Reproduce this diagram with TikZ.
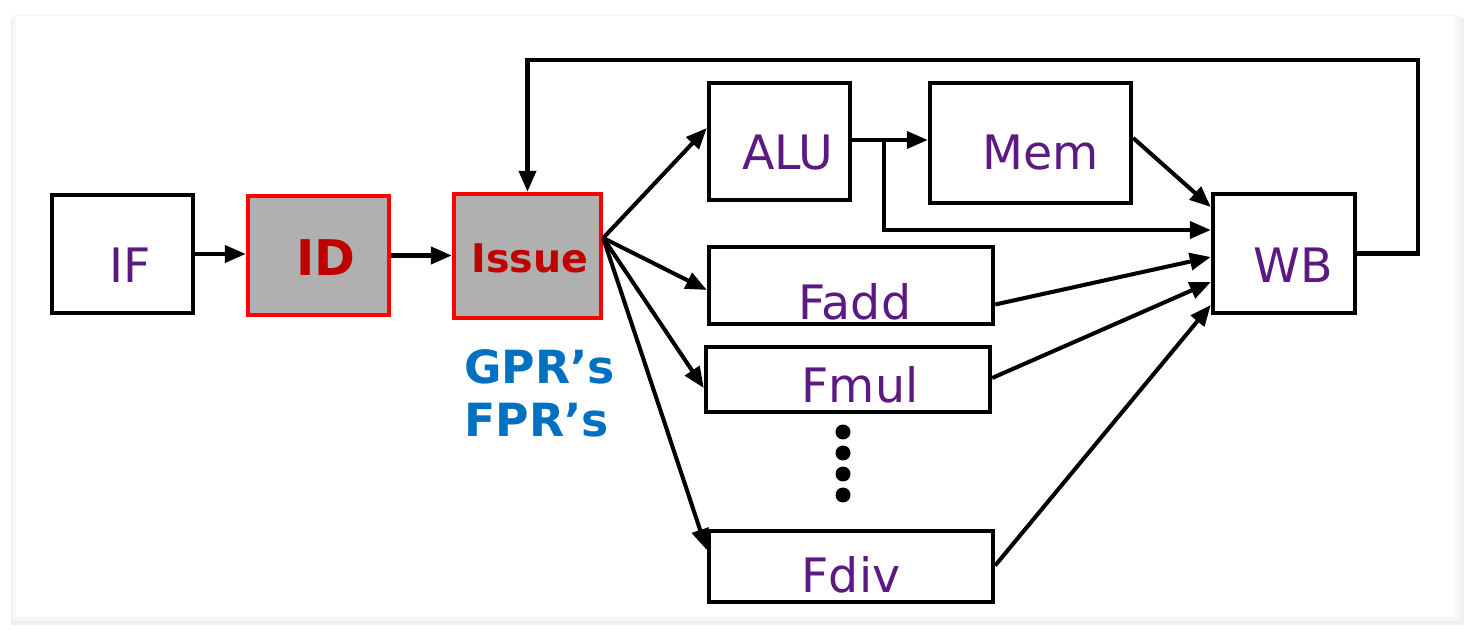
\documentclass[tikz,border=0pt]{standalone}
\usepackage{fontspec}
\setmainfont{DejaVu Sans}
\usetikzlibrary{arrows.meta}
\definecolor{unitpurple}{HTML}{5B1A82}
\definecolor{stagered}{HTML}{C00000}
\definecolor{regblue}{HTML}{0070C0}
\definecolor{stagegray}{HTML}{B0B0B0}
\tikzset{
	unit/.style={draw=black, line width=2.5pt, fill=white, inner sep=0pt},
	stage/.style={draw=red, line width=2.5pt, fill=stagegray, inner sep=0pt},
	utxt/.style={text=unitpurple, font=\fontsize{27}{32}\selectfont},
	stxt/.style={text=stagered, font=\bfseries\fontsize{#1}{32}\selectfont},
	arr/.style={line width=2.3pt, -{Triangle[length=4.2mm,width=3.4mm]}}
}

\begin{document}
\begin{tikzpicture}
		\useasboundingbox (0,0) rectangle (29.44,-12.68);
		% card and its shadow
		\fill[black!6] (0.22,-0.36) rectangle (29.28,-12.5);
		\fill[black!3] (0.26,-0.3) rectangle (29.2,-12.42);
		\fill[white] (0.32,-0.32) rectangle (29.1,-12.34);
		
		% the boxes
		\node[unit, minimum width=2.82cm, minimum height=2.36cm,
			label={[utxt,xshift=0.15cm,yshift=-0.22cm]center:IF}] (if) at (2.45,-5.08) {};
		\node[stage, minimum width=2.82cm, minimum height=2.38cm,
			label={[stxt=28,xshift=0.15cm,yshift=-0.05cm]center:ID}] (id) at (6.37,-5.11) {};
		\node[stage, minimum width=2.94cm, minimum height=2.48cm,
			label={[stxt=22.5,xshift=0.05cm,yshift=-0.04cm]center:Issue}] (issue) at (10.55,-5.12) {};
		\node[unit, minimum width=2.82cm, minimum height=2.34cm,
			label={[utxt,xshift=0.17cm,yshift=-0.23cm]center:ALU}] (alu) at (15.59,-2.83) {};
		\node[unit, minimum width=4.02cm, minimum height=2.4cm,
			label={[utxt,xshift=0.21cm,yshift=-0.2cm]center:Mem}] (mem) at (20.61,-2.86) {};
		\node[unit, minimum width=2.84cm, minimum height=2.38cm,
			label={[utxt,xshift=0.18cm,yshift=-0.23cm]center:WB}] (wb) at (25.68,-5.07) {};
		\node[unit, minimum width=5.68cm, minimum height=1.54cm,
			label={[utxt,xshift=0.08cm,yshift=-0.33cm]center:Fadd}] (fadd) at (17.02,-5.71) {};
		\node[unit, minimum width=5.68cm, minimum height=1.3cm,
			label={[utxt,xshift=0.24cm,yshift=-0.11cm]center:Fmul}] (fmul) at (16.96,-7.59) {};
		\node[unit, minimum width=5.68cm, minimum height=1.42cm,
			label={[utxt,xshift=0cm,yshift=-0.17cm]center:Fdiv}] (fdiv) at (17.02,-11.33) {};
		
		% register files
		\node[anchor=west, align=left, text=regblue, font=\bfseries\fontsize{26}{30}\selectfont,
			inner sep=0pt] (regs) at (9.28,-7.87) {GPR’s\\FPR’s};
		
		% the dots
		\foreach \y in {8.64,9.06,9.48,9.9}
		{
			\fill (16.86,-\y) circle (0.15);
		}
		
		% pipeline arrows
		\draw[arr] (if.east) -- (if.east -| id.west);
		\draw[arr] (id.east) -- (id.east -| issue.west);
		\draw[arr] ([yshift=0.36cm]issue.east) -- ([yshift=0.27cm]alu.west);
		\draw[arr] ([yshift=0.36cm]issue.east) -- ([yshift=-0.09cm]fadd.west);
		\draw[arr] ([yshift=0.36cm]issue.east) -- ([yshift=-0.17cm]fmul.west);
		\draw[arr] ([yshift=0.36cm]issue.east) -- ([yshift=0.33cm]fdiv.west);
		\draw[arr] ([yshift=0.03cm]alu.east) -- ([yshift=0.03cm]alu.east -| mem.west);
		\coordinate (split) at (17.68,-2.8);
		\draw[arr] (split) |- ([yshift=0.47cm]wb.west);
		\draw[arr] ([yshift=0.1cm]mem.east) -- ([yshift=0.93cm]wb.west);
		\draw[arr] ([yshift=-0.38cm]fadd.east) -- ([yshift=-0.07cm]wb.west);
		\draw[arr] ([yshift=0.03cm]fmul.east) -- ([yshift=-0.57cm]wb.west);
		\draw[arr] ([yshift=0.02cm]fdiv.east) -- ([yshift=-1.03cm]wb.west);
		
		% write back loop
		\coordinate (loop) at (28.36,-1.2);
		\draw[arr] (wb.east) -| (loop) -| (issue.north);
		
	\end{tikzpicture}
\end{document}
